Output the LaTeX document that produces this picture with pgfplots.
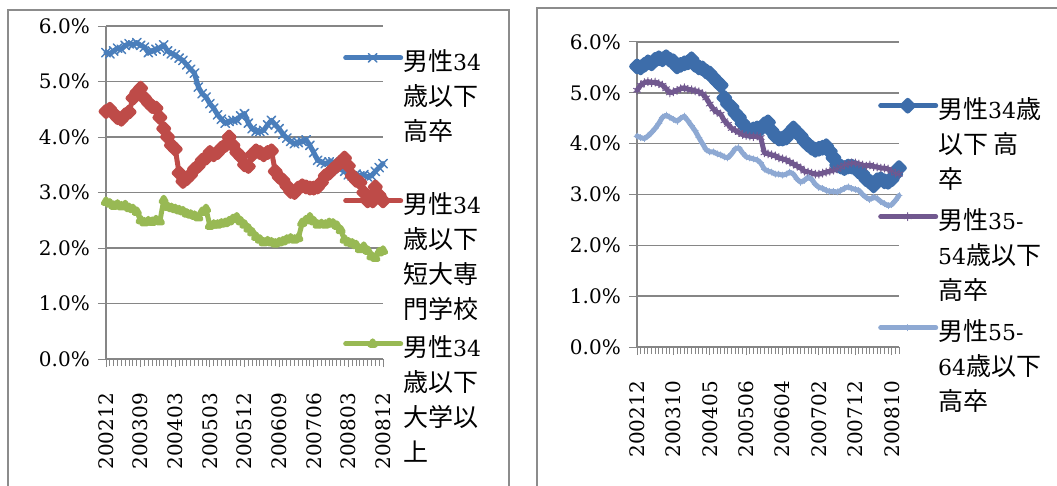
\documentclass[border=0pt]{standalone}
\usepackage{fontspec}
\usepackage{pgfplots}
\usepackage{pgfplotstable}
\pgfplotsset{compat=1.18}
\setmainfont{DejaVu Serif}
\newfontfamily\cjk{Noto Sans CJK JP}
\newcommand\D[1]{{\fontsize{22}{35}\selectfont #1}}

\definecolor{gridc}{HTML}{868686}
\definecolor{framec}{HTML}{8C8C8C}
\definecolor{lblue}{HTML}{4A7EBB}
\definecolor{lred}{HTML}{BE4B48}
\definecolor{lgreen}{HTML}{98B954}
\definecolor{rblue}{HTML}{3D6DAA}
\definecolor{rpurple}{HTML}{71588F}
\definecolor{rlight}{HTML}{8EA9D3}

% i = month index from 200212; values in percent
\pgfplotstableread{
i  B    R    G    B2   P    L
0  5.52 4.46 2.83 5.52 5.05 4.15
1  5.50 4.50 2.80 5.50 5.15 4.12
2  5.55 4.42 2.76 5.55 5.20 4.10
3  5.60 4.35 2.78 5.60 5.22 4.15
4  5.58 4.32 2.75 5.58 5.20 4.22
5  5.65 4.40 2.77 5.65 5.21 4.30
6  5.68 4.45 2.72 5.68 5.18 4.40
7  5.66 4.70 2.70 5.66 5.15 4.52
8  5.70 4.80 2.65 5.70 5.08 4.56
9  5.65 4.88 2.50 5.65 5.00 4.52
10 5.62 4.70 2.46 5.62 5.02 4.48
11 5.52 4.62 2.48 5.52 5.05 4.44
12 5.55 4.55 2.47 5.55 5.08 4.50
13 5.58 4.52 2.50 5.58 5.10 4.54
14 5.60 4.35 2.48 5.60 5.07 4.45
15 5.66 4.15 2.86 5.66 5.06 4.35
16 5.55 4.00 2.74 5.55 5.04 4.25
17 5.50 3.85 2.72 5.50 5.02 4.12
18 5.48 3.78 2.70 5.48 4.98 4.00
19 5.42 3.35 2.68 5.42 4.90 3.88
20 5.38 3.20 2.66 5.38 4.78 3.84
21 5.30 3.25 2.62 5.30 4.68 3.84
22 5.22 3.32 2.60 5.22 4.62 3.80
23 5.15 3.42 2.58 5.15 4.58 3.78
24 4.90 3.48 2.55 4.90 4.45 3.74
25 4.78 3.58 2.65 4.78 4.38 3.72
26 4.72 3.62 2.70 4.72 4.30 3.80
27 4.60 3.72 2.40 4.60 4.26 3.90
28 4.52 3.68 2.42 4.52 4.22 3.92
29 4.40 3.72 2.42 4.40 4.18 3.82
30 4.32 3.80 2.44 4.32 4.16 3.74
31 4.25 3.85 2.45 4.25 4.15 3.72
32 4.28 4.00 2.48 4.28 4.14 3.70
33 4.30 3.85 2.52 4.30 4.15 3.68
34 4.30 3.72 2.55 4.30 4.12 3.62
35 4.38 3.65 2.48 4.38 3.82 3.50
36 4.42 3.50 2.42 4.42 3.80 3.46
37 4.25 3.47 2.35 4.25 3.78 3.44
38 4.15 3.68 2.28 4.15 3.76 3.40
39 4.10 3.75 2.20 4.10 3.72 3.40
40 4.10 3.72 2.15 4.10 3.70 3.38
41 4.12 3.68 2.10 4.12 3.68 3.40
42 4.22 3.72 2.12 4.22 3.64 3.44
43 4.30 3.75 2.10 4.30 3.60 3.40
44 4.22 3.38 2.08 4.22 3.56 3.30
45 4.15 3.28 2.10 4.15 3.52 3.24
46 4.05 3.22 2.12 4.05 3.46 3.28
47 3.98 3.12 2.15 3.98 3.44 3.34
48 3.92 3.02 2.17 3.92 3.42 3.30
49 3.88 3.00 2.15 3.88 3.40 3.20
50 3.90 3.08 2.18 3.90 3.40 3.14
51 3.92 3.12 2.45 3.92 3.42 3.12
52 3.95 3.10 2.50 3.95 3.44 3.08
53 3.85 3.08 2.55 3.85 3.46 3.06
54 3.72 3.08 2.48 3.72 3.48 3.06
55 3.58 3.10 2.42 3.58 3.50 3.05
56 3.55 3.18 2.43 3.55 3.54 3.08
57 3.52 3.30 2.42 3.52 3.58 3.12
58 3.55 3.35 2.45 3.55 3.60 3.15
59 3.55 3.42 2.44 3.55 3.62 3.12
60 3.50 3.48 2.40 3.52 3.62 3.10
61 3.42 3.55 2.32 3.45 3.60 3.08
62 3.38 3.62 2.15 3.40 3.58 3.00
63 3.32 3.48 2.10 3.30 3.56 2.94
64 3.30 3.30 2.08 3.25 3.58 2.90
65 3.33 3.22 2.05 3.18 3.55 2.95
66 3.30 3.18 1.98 3.28 3.54 2.92
67 3.32 3.00 2.02 3.30 3.52 2.86
68 3.28 2.85 1.95 3.26 3.52 2.82
69 3.30 2.92 1.85 3.25 3.50 2.78
70 3.38 3.10 1.82 3.30 3.46 2.80
71 3.45 2.95 1.92 3.40 3.42 2.88
72 3.52 2.85 1.95 3.52 3.40 2.98
}\rates

\pgfplotsset{
  panel/.style={
    scale only axis, anchor=south west, clip=false,
    xmin=0, xmax=72, ymin=0, ymax=6,
    axis x line*=bottom, axis y line*=left,
    axis line style={draw=gridc, line width=1.5pt, -},
    ymajorgrids, grid style={draw=gridc, line width=1.5pt},
    ytick={0,...,6},
    minor xtick={0,...,72},
    tick align=outside,
    major tick length=8pt, minor tick length=7pt,
    tick style={draw=gridc, line width=1pt},
    /pgf/number format/assume math mode=true,
    tick label style={font=\fontsize{20}{25}\selectfont, inner sep=0pt},
    yticklabel={\pgfmathprintnumber[fixed,fixed zerofill,precision=1]{\tick}\%},
    yticklabel shift=12pt,
    yticklabel style={xshift=4pt},
    xticklabel shift=26pt,
    xticklabel style={rotate=90, anchor=east},
    legend image code/.code={\draw[mark repeat=2,mark phase=2,yshift=13pt] plot coordinates {(0pt,0pt) (27pt,0pt) (55pt,0pt)};},
    legend style={draw=none, fill=none, inner sep=0pt, row sep=0pt,
      font=\fontsize{25}{35}\selectfont, cells={anchor=base west},
      nodes={inner sep=0pt, text depth=, text height=},
      /tikz/every even column/.style={column sep=5pt}, anchor=north west},
    every axis plot/.append style={line width=5pt, line join=round, line cap=round},
  },
}

\begin{document}
\begin{tikzpicture}[x=1pt,y=1pt]
\path[use as bounding box] (0,0) rectangle (1057,485);
\clip (0,0) rectangle (1057,485);
\draw[framec, line width=1.5pt] (8,475) rectangle (509,-20);
\draw[framec, line width=1.5pt] (537,477) rectangle (1080,-20);

\begin{axis}[panel, at={(106pt,126pt)}, width=277pt, height=333pt,
  xtick={0,9,...,72},
  xticklabels={200212,200309,200403,200503,200512,200609,200706,200803,200812},
  legend style={at={(0.8556,0.929)}}]
\addplot[lblue, mark=x, mark size=6pt, mark options={line width=1.5pt}] table[x=i,y=B]{\rates};
\addlegendentry{\parbox[t][143pt][t]{100pt}{{\cjk 男性}\D{34}\\{\cjk 歳以下}\\{\cjk 高卒}}}
\addplot[lred, mark=square*, mark size=3.5pt, mark options={rotate=45}] table[x=i,y=R]{\rates};
\addlegendentry{\parbox[t][143pt][t]{100pt}{{\cjk 男性}\D{34}\\{\cjk 歳以下}\\{\cjk 短大専}\\{\cjk 門学校}}}
\addplot[lgreen, mark=triangle*, mark size=3pt] table[x=i,y=G]{\rates};
\addlegendentry{\parbox[t][143pt][t]{100pt}{{\cjk 男性}\D{34}\\{\cjk 歳以下}\\{\cjk 大学以}\\{\cjk 上}}}
\end{axis}

\begin{axis}[panel, at={(637pt,138pt)}, width=262pt, height=305pt,
  xtick={0,10,...,70},
  xticklabels={200212,200310,200405,200506,200604,200702,200712,200810},
  legend style={at={(0.92,0.818)}}]
\addplot[rblue, mark=square*, mark size=3.8pt, mark options={rotate=45}] table[x=i,y=B2]{\rates};
\addlegendentry{\parbox[t][111pt][t]{130pt}{{\cjk 男性}\D{34}{\cjk 歳}\\{\cjk 以下 高}\\{\cjk 卒}}}
\addplot[rpurple, mark=asterisk, mark size=4pt, mark options={line width=1pt}] table[x=i,y=P]{\rates};
\addlegendentry{\parbox[t][111pt][t]{130pt}{{\cjk 男性}\D{35-}\\\D{54}{\cjk 歳以下}\\{\cjk 高卒}}}
\addplot[rlight, mark=+, mark size=3pt, mark options={line width=1pt}] table[x=i,y=L]{\rates};
\addlegendentry{\parbox[t][111pt][t]{130pt}{{\cjk 男性}\D{55-}\\\D{64}{\cjk 歳以下}\\{\cjk 高卒}}}
\end{axis}
\end{tikzpicture}
\end{document}
